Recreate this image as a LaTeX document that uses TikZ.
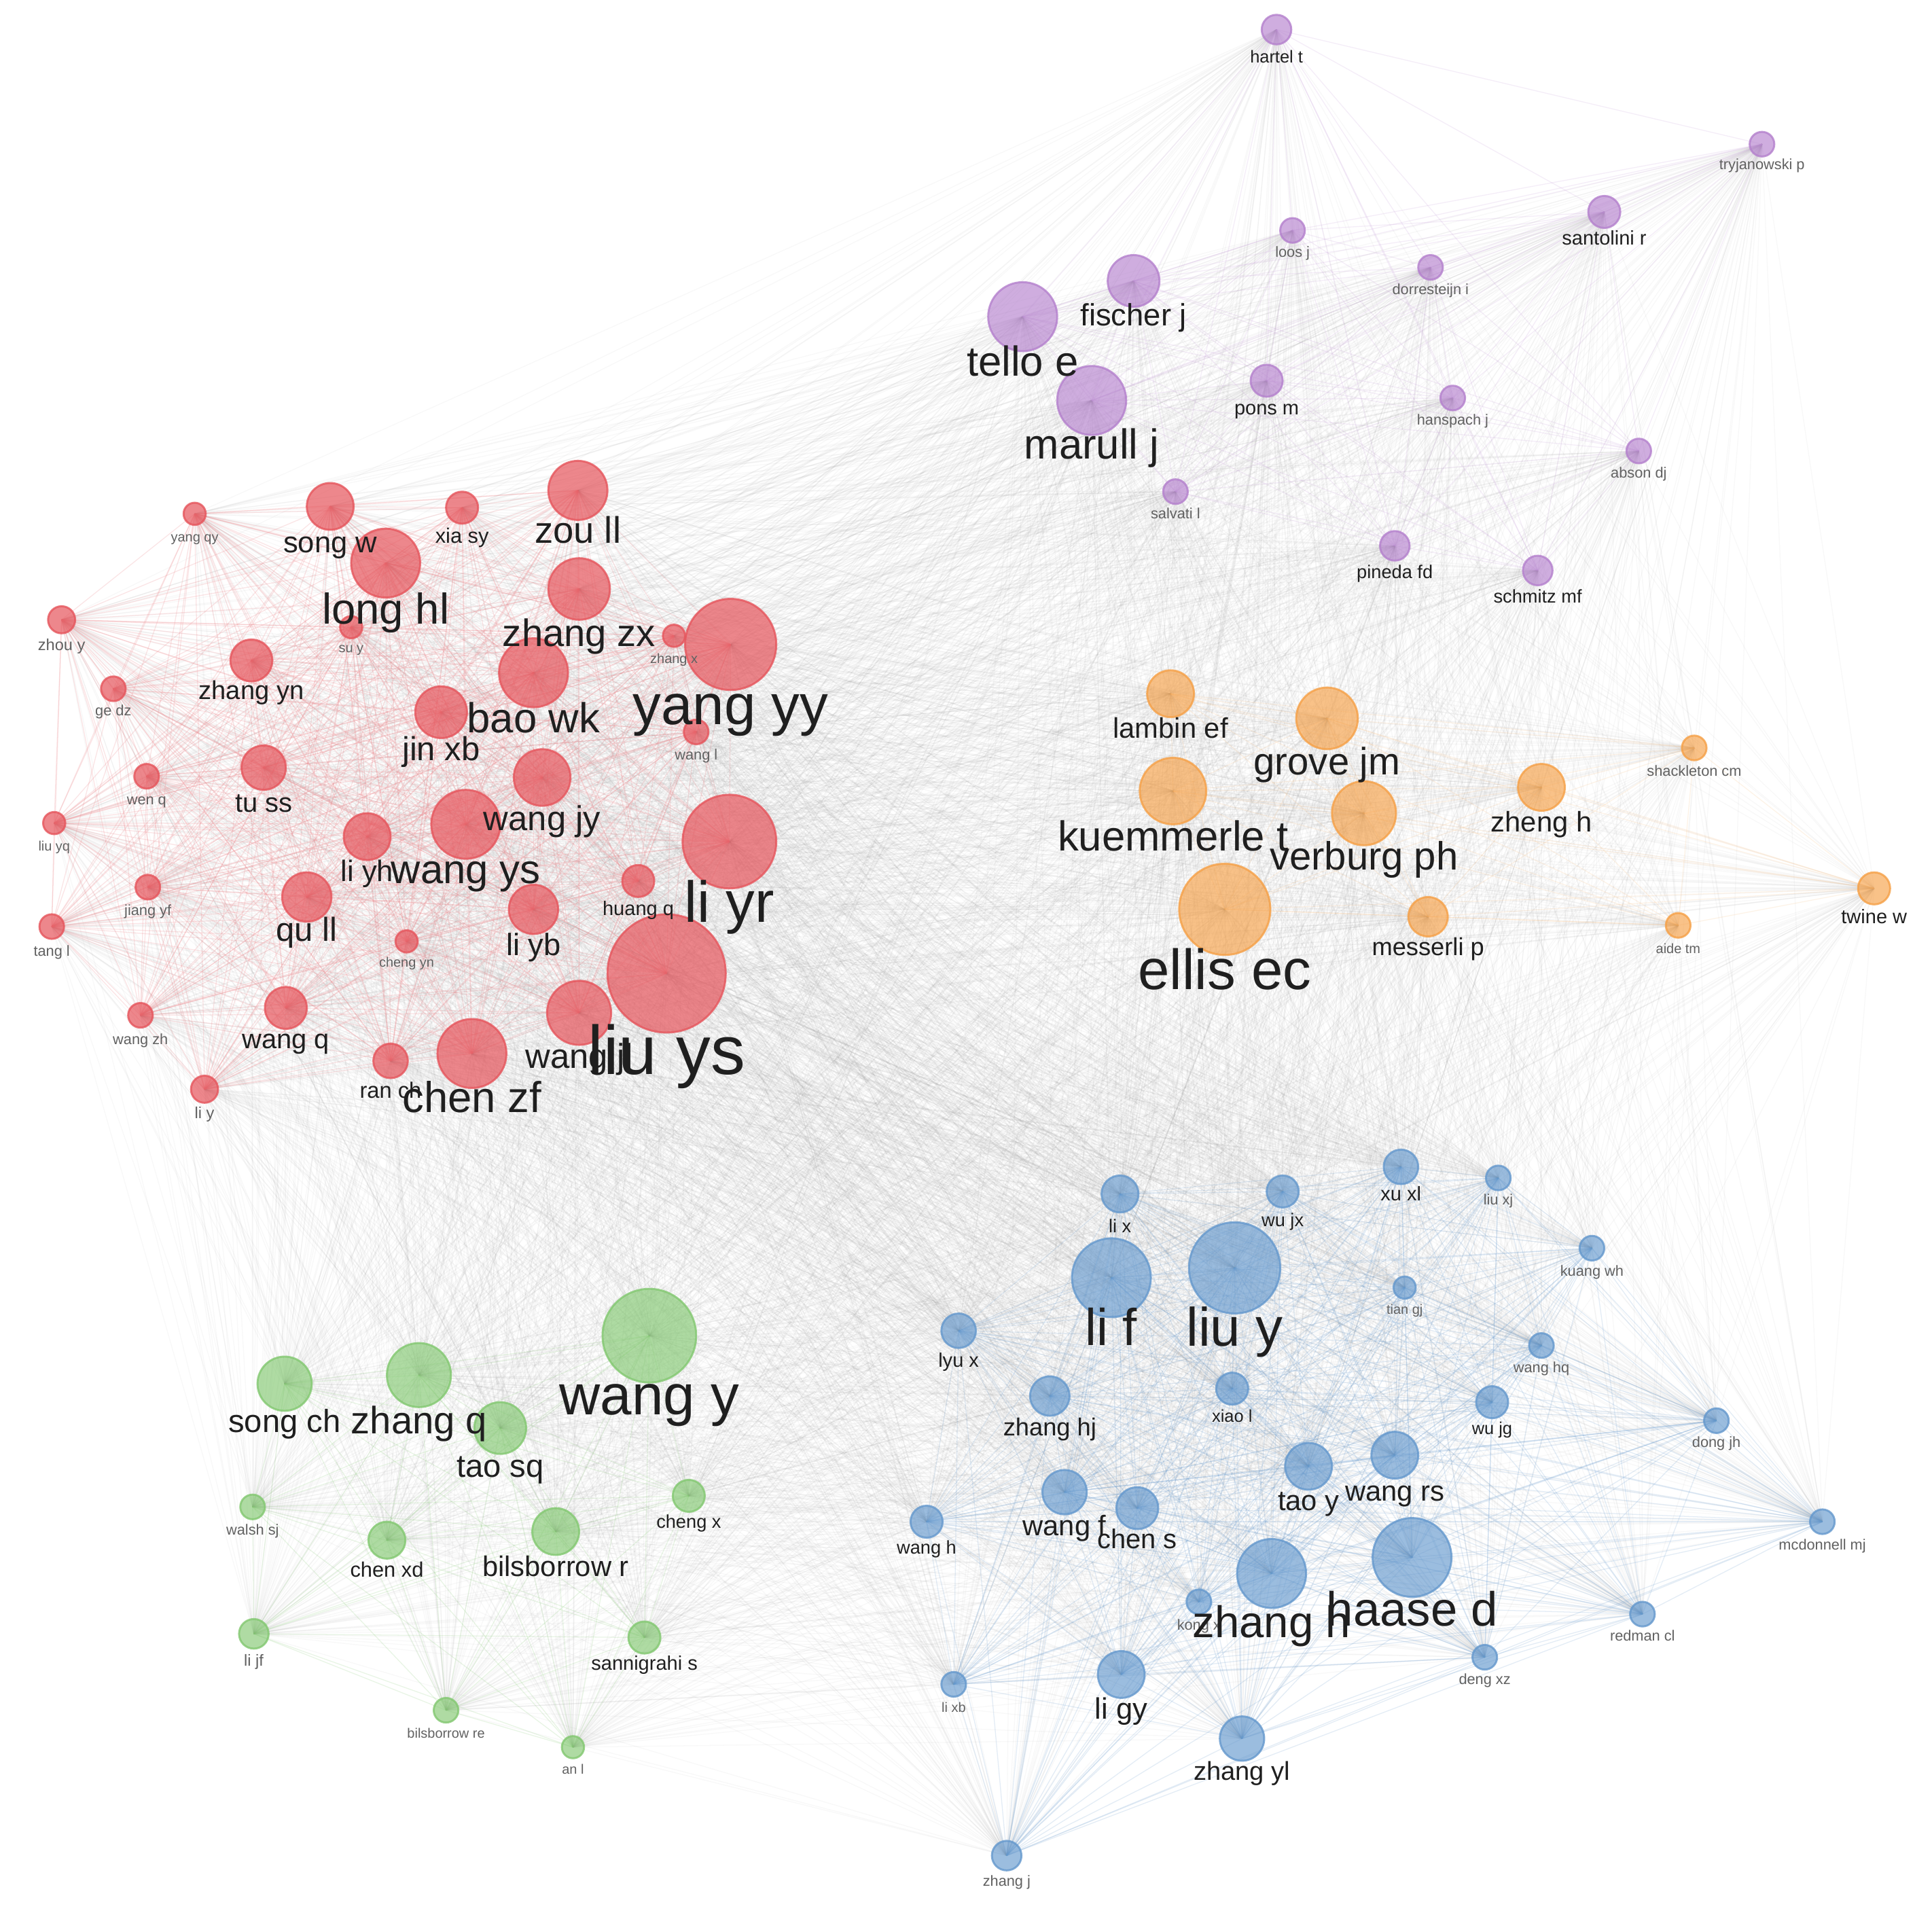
\documentclass[tikz,border=0pt]{standalone}
\usepackage{fontspec}
\setmainfont{Liberation Sans}
\definecolor{cR}{RGB}{230,85,92}
\definecolor{cP}{RGB}{180,128,205}
\definecolor{cO}{RGB}{246,160,70}
\definecolor{cG}{RGB}{130,200,112}
\definecolor{cB}{RGB}{100,152,205}
\pgfdeclarelayer{edges}
\pgfdeclarelayer{labels}
\pgfsetlayers{edges,main,labels}
\tikzset{
  nodebase/.style={circle, inner sep=0pt, line width=0.8pt, fill opacity=0.64, draw opacity=0.8},
  nR/.style={nodebase, fill=cR, draw=cR, fill opacity=0.7},
  nP/.style={nodebase, fill=cP, draw=cP},
  nO/.style={nodebase, fill=cO, draw=cO},
  nG/.style={nodebase, fill=cG, draw=cG},
  nB/.style={nodebase, fill=cB, draw=cB},
  lab/.style={inner sep=0pt, anchor=mid},
  eR/.style={draw=cR!70, draw opacity=0.22, line width=0.35pt},
  eP/.style={draw=cP!70, draw opacity=0.2, line width=0.35pt},
  eO/.style={draw=cO!70, draw opacity=0.18, line width=0.35pt},
  eG/.style={draw=cG, draw opacity=0.18, line width=0.35pt},
  eB/.style={draw=cB, draw opacity=0.18, line width=0.35pt},
  eX/.style={draw=black!40, draw opacity=0.065, line width=0.35pt}
}
\newcommand\nd[8]{%
  \node[#2, minimum size=#5pt] (#1) at (#3,#4) {};
  \begin{pgfonlayer}{labels}
  \ifdim #7pt<6.6pt \def\labcol{black!62}\else\def\labcol{black!88}\fi
  \node[lab, text=\labcol, font=\fontsize{#7}{#7}\selectfont] (#1l) at ({#3},{#8+0.42*#7}) {#6};
  \end{pgfonlayer}}
\begin{document}
\begin{tikzpicture}[x=0.5pt, y=-0.5pt]
\useasboundingbox (0,0) rectangle (1568,1554);
% ---------------- red cluster
\nd{r1}{nR}{158}{417}{9}{yang qy}{5.5}{432}
\nd{r2}{nR}{268}{411}{19}{song w}{12}{438}
\nd{r3}{nR}{375}{412}{13}{xia sy}{8.5}{432}
\nd{r4}{nR}{469}{398}{24}{zou ll}{15}{429}
\nd{r5}{nR}{313}{457}{28}{long hl}{17.5}{494}
\nd{r6}{nR}{50}{503}{11}{zhou y}{6.5}{520}
\nd{r7}{nR}{285}{509}{9}{su y}{5.5}{522}
\nd{r8}{nR}{470}{478}{25}{zhang zx}{15.5}{513}
\nd{r9}{nR}{547}{516}{9}{zhang x}{5.5}{531}
\nd{r10}{nR}{593}{523}{37}{yang yy}{23}{573}
\nd{r11}{nR}{204}{536}{17}{zhang yn}{10.5}{558}
\nd{r12}{nR}{92}{559}{10}{ge dz}{6}{573}
\nd{r13}{nR}{433}{546}{28}{bao wk}{17}{582}
\nd{r14}{nR}{358}{578}{21}{jin xb}{13.5}{606}
\nd{r15}{nR}{565}{594}{10}{wang l}{6}{609}
\nd{r16}{nR}{119}{630}{10}{wen q}{6}{645}
\nd{r17}{nR}{214}{623}{18}{tu ss}{11}{649}
\nd{r18}{nR}{440}{631}{23}{wang jy}{14}{663}
\nd{r19}{nR}{44}{668}{9}{liu yq}{5.5}{683}
\nd{r20}{nR}{592}{683}{38}{li yr}{23.5}{733}
\nd{r21}{nR}{298}{679}{19}{li yh}{12}{705}
\nd{r22}{nR}{378}{669}{28}{wang ys}{16.5}{705}
\nd{r23}{nR}{518}{715}{13}{huang q}{8}{734}
\nd{r24}{nR}{120}{720}{10}{jiang yf}{6}{735}
\nd{r25}{nR}{249}{728}{20}{qu ll}{13.5}{753}
\nd{r26}{nR}{433}{738}{20}{li yb}{12.5}{765}
\nd{r27}{nR}{42}{752}{10}{tang l}{6}{768}
\nd{r28}{nR}{330}{764}{9}{cheng yn}{5.5}{777}
\nd{r29}{nR}{470}{822}{26}{wang jl}{14}{856}
\nd{r30}{nR}{541}{790}{48}{liu ys}{28}{855}
\nd{r31}{nR}{232}{818}{17}{wang q}{11}{841}
\nd{r32}{nR}{114}{824}{10}{wang zh}{6}{840}
\nd{r33}{nR}{317}{861}{14}{ran ch}{9}{882}
\nd{r34}{nR}{383}{855}{28}{chen zf}{17.5}{890}
\nd{r35}{nR}{166}{884}{11}{li y}{6.5}{900}
% ---------------- purple cluster
\nd{p1}{nP}{1036}{24}{12}{hartel t}{7}{43}
\nd{p2}{nP}{1430}{117}{10}{tryjanowski p}{6}{130}
\nd{p3}{nP}{1302}{172}{13}{santolini r}{8}{190}
\nd{p4}{nP}{1049}{187}{10}{loos j}{6}{201}
\nd{p5}{nP}{1161}{217}{10}{dorresteijn i}{6}{231}
\nd{p6}{nP}{920}{228}{21}{fischer j}{12.5}{254}
\nd{p7}{nP}{830}{257}{28}{tello e}{17}{293}
\nd{p8}{nP}{886}{325}{28}{marull j}{17}{360}
\nd{p9}{nP}{1028}{309}{13}{pons m}{8}{328}
\nd{p10}{nP}{1179}{323}{10}{hanspach j}{6}{337}
\nd{p11}{nP}{1330}{366}{10}{abson dj}{6}{380}
\nd{p12}{nP}{954}{399}{10}{salvati l}{6}{413}
\nd{p13}{nP}{1132}{443}{12}{pineda fd}{7.5}{461}
\nd{p14}{nP}{1248}{463}{12}{schmitz mf}{7.5}{481}
% ---------------- orange cluster
\nd{o1}{nO}{950}{563}{19}{lambin ef}{11.5}{589}
\nd{o2}{nO}{1077}{583}{25}{grove jm}{15.5}{617}
\nd{o3}{nO}{1375}{607}{10}{shackleton cm}{6}{622}
\nd{o4}{nO}{952}{642}{27}{kuemmerle t}{17}{678}
\nd{o5}{nO}{1251}{639}{19}{zheng h}{11.5}{665}
\nd{o6}{nO}{1107}{660}{26}{verburg ph}{16}{694}
\nd{o7}{nO}{1521}{721}{13}{twine w}{8}{741}
\nd{o8}{nO}{994}{738}{37}{ellis ec}{23}{788}
\nd{o9}{nO}{1159}{744}{16}{messerli p}{10}{766}
\nd{o10}{nO}{1362}{751}{10}{aide tm}{5.5}{766}
% ---------------- green cluster
\nd{g1}{nG}{527}{1084}{38}{wang y}{23}{1133}
\nd{g2}{nG}{231}{1123}{22}{song ch}{13}{1152}
\nd{g3}{nG}{340}{1116}{26}{zhang q}{15.5}{1152}
\nd{g4}{nG}{406}{1159}{21}{tao sq}{13}{1188}
\nd{g5}{nG}{205}{1223}{10}{walsh sj}{6}{1238}
\nd{g6}{nG}{559}{1214}{13}{cheng x}{7.5}{1232}
\nd{g7}{nG}{314}{1250}{15}{chen xd}{8.5}{1271}
\nd{g8}{nG}{451}{1243}{19}{bilsborrow r}{11.5}{1269}
\nd{g9}{nG}{206}{1326}{12}{li jf}{6.5}{1344}
\nd{g10}{nG}{523}{1329}{13}{sannigrahi s}{8}{1347}
\nd{g11}{nG}{362}{1388}{10}{bilsborrow re}{5.5}{1403}
\nd{g12}{nG}{465}{1418}{9}{an l}{5.5}{1432}
% ---------------- blue cluster
\nd{b1}{nB}{1137}{947}{14}{xu xl}{8}{966}
\nd{b2}{nB}{1216}{956}{10}{liu xj}{6}{970}
\nd{b3}{nB}{909}{969}{15}{li x}{7.5}{992}
\nd{b4}{nB}{1041}{967}{13}{wu jx}{7.5}{987}
\nd{b5}{nB}{1002}{1029}{37}{liu y}{22}{1078}
\nd{b6}{nB}{902}{1037}{32}{li f}{21}{1078}
\nd{b7}{nB}{1292}{1013}{10}{kuang wh}{6}{1028}
\nd{b8}{nB}{1140}{1045}{9}{tian gj}{5.5}{1059}
\nd{b9}{nB}{778}{1080}{14}{lyu x}{8}{1101}
\nd{b10}{nB}{1251}{1092}{10}{wang hq}{6}{1106}
\nd{b11}{nB}{852}{1133}{16}{zhang hj}{10}{1156}
\nd{b12}{nB}{1000}{1127}{13}{xiao l}{7}{1146}
\nd{b13}{nB}{1211}{1138}{13}{wu jg}{7}{1156}
\nd{b14}{nB}{1393}{1153}{10}{dong jh}{6}{1167}
\nd{b15}{nB}{1062}{1190}{19}{tao y}{11.5}{1216}
\nd{b16}{nB}{1132}{1181}{19}{wang rs}{11.5}{1208}
\nd{b17}{nB}{864}{1211}{18}{wang f}{11.5}{1236}
\nd{b18}{nB}{923}{1224}{17}{chen s}{11}{1247}
\nd{b19}{nB}{752}{1235}{13}{wang h}{7.5}{1253}
\nd{b20}{nB}{1479}{1235}{10}{mcdonnell mj}{6}{1250}
\nd{b21}{nB}{973}{1300}{10}{kong x}{6}{1315}
\nd{b22}{nB}{1032}{1277}{28}{zhang h}{18}{1316}
\nd{b23}{nB}{1146}{1264}{32}{haase d}{19.5}{1306}
\nd{b24}{nB}{1333}{1310}{10}{redman cl}{6}{1324}
\nd{b25}{nB}{1205}{1345}{10}{deng xz}{6}{1359}
\nd{b26}{nB}{774}{1367}{10}{li xb}{5.5}{1382}
\nd{b27}{nB}{910}{1359}{19}{li gy}{12}{1385}
\nd{b28}{nB}{1008}{1411}{18}{zhang yl}{10.5}{1435}
\nd{b29}{nB}{817}{1506}{12}{zhang j}{6}{1523}
% ---------------- connectors
\begin{pgfonlayer}{edges}
\fill[white] (0,0) rectangle (1568,1554);
% cross-cluster
\foreach \i in {1,...,35}{\foreach \j in {1,...,14}{\draw[eX] (r\i.center) -- (p\j.center);}}
\foreach \i in {1,...,35}{\foreach \j in {1,...,10}{\draw[eX] (r\i.center) -- (o\j.center);}}
\foreach \i in {1,...,35}{\foreach \j in {1,...,12}{\draw[eX] (r\i.center) -- (g\j.center);}}
\foreach \i in {1,...,35}{\foreach \j in {1,...,29}{\draw[eX] (r\i.center) -- (b\j.center);}}
\foreach \i in {1,...,14}{\foreach \j in {1,...,10}{\draw[eX] (p\i.center) -- (o\j.center);}}
\foreach \i in {1,...,14}{\foreach \j in {1,...,12}{\draw[eX] (p\i.center) -- (g\j.center);}}
\foreach \i in {1,...,14}{\foreach \j in {1,...,29}{\draw[eX] (p\i.center) -- (b\j.center);}}
\foreach \i in {1,...,10}{\foreach \j in {1,...,12}{\draw[eX] (o\i.center) -- (g\j.center);}}
\foreach \i in {1,...,10}{\foreach \j in {1,...,29}{\draw[eX] (o\i.center) -- (b\j.center);}}
\foreach \i in {1,...,12}{\foreach \j in {1,...,29}{\draw[eX] (g\i.center) -- (b\j.center);}}
% within clusters
\foreach \i in {1,...,35}{\foreach \j in {\i,...,35}{\ifnum\j>\i \draw[eR] (r\i.center) -- (r\j.center);\fi}}
\foreach \i in {1,...,14}{\foreach \j in {\i,...,14}{\ifnum\j>\i \draw[eP] (p\i.center) -- (p\j.center);\fi}}
\foreach \i in {1,...,10}{\foreach \j in {\i,...,10}{\ifnum\j>\i \draw[eO] (o\i.center) -- (o\j.center);\fi}}
\foreach \i in {1,...,12}{\foreach \j in {\i,...,12}{\ifnum\j>\i \draw[eG] (g\i.center) -- (g\j.center);\fi}}
\foreach \i in {1,...,29}{\foreach \j in {\i,...,29}{\ifnum\j>\i \draw[eB] (b\i.center) -- (b\j.center);\fi}}
\end{pgfonlayer}
\end{tikzpicture}
\end{document}
